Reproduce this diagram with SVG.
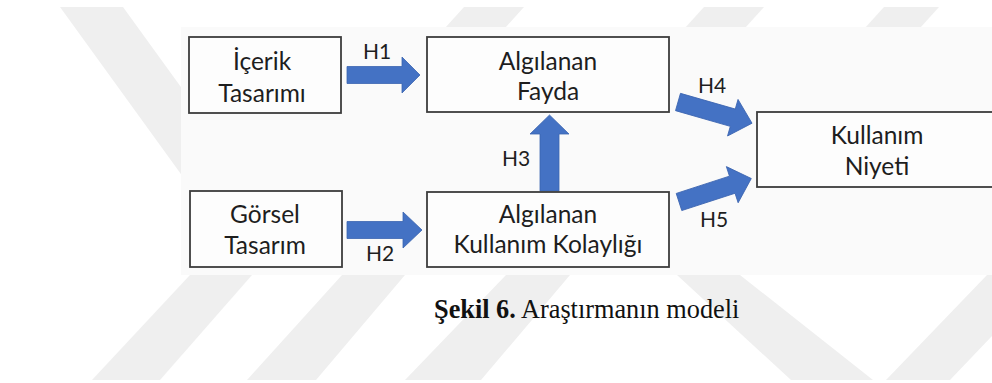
<svg xmlns="http://www.w3.org/2000/svg" width="992" height="383" viewBox="0 0 992 383">
<style>
.wm{fill:#efefef}
.box{fill:#fdfdfd;stroke:#3c3c3c;stroke-width:1.8}
.t{font-family:Lato,"Open Sans","Liberation Sans",sans-serif;font-size:24.5px;fill:#1e1e1e;text-anchor:middle}
.h{font-family:Lato,"Open Sans","Liberation Sans",sans-serif;font-size:21px;fill:#1e1e1e}
.arr{fill:#4472c4;stroke:#3b64b0;stroke-width:0.8}
.cap{font-family:"Liberation Serif","Times New Roman",serif;font-size:26.3px;fill:#111}
</style>
<rect width="992" height="383" fill="#ffffff"/>
<g id="watermark">
<polygon class="wm" points="60,7 123,7 317,275 254,275"/>
<polygon class="wm" points="464,7 524,7 505,28 445,28"/>
<polygon class="wm" points="704,7 764,7 745,28 685,28"/>
<polygon class="wm" points="884,7 939,7 920,28 865,28"/>
<polygon class="wm" points="190,275 252,275 160,380 92,380"/>
<polygon class="wm" points="342,275 405,275 316,380 247,380"/>
<polygon class="wm" points="506,275 570,275 481,380 405,380"/>
<polygon class="wm" points="677,275 740,275 873,380 791,380"/>
<polygon class="wm" points="987,275 1050,275 950,380 886,380"/>
</g>
<rect x="181" y="27" width="811" height="248" fill="#fafafa"/>
<g id="connectors">
<g id="H1">
<path class="arr" d="M347,66.5 H402 V57 L420,75 L402,93 V83.5 H347 Z"/>
<text class="h" x="363" y="59">H1</text>
</g>
<g id="H2">
<path class="arr" d="M347,221.5 H403 V212 L422,230 L403,248 V238.5 H347 Z"/>
<text class="h" x="366" y="261">H2</text>
</g>
<g id="H3">
<path class="arr" d="M540,191 V134 H530 L549.5,115 L569,134 H559 V191 Z"/>
<text class="h" x="502" y="166">H3</text>
</g>
<g id="H4">
<path class="arr" transform="translate(678,102) rotate(16)" d="M0,-9 H57 V-19 L77,0 L57,19 V9 H0 Z"/>
<text class="h" x="698" y="93">H4</text>
</g>
<g id="H5">
<path class="arr" transform="translate(679,202) rotate(-18)" d="M0,-9 H56 V-19 L76,0 L56,19 V9 H0 Z"/>
<text class="h" x="700" y="227">H5</text>
</g>
</g>
<g id="icerik">
<rect class="box" x="189" y="37" width="152" height="76"/>
<text class="t" x="262" y="70">İçerik</text>
<text class="t" x="262" y="102">Tasarımı</text>
</g>
<g id="gorsel">
<rect class="box" x="190" y="191" width="152" height="76"/>
<text class="t" x="265" y="223">Görsel</text>
<text class="t" x="265" y="254">Tasarım</text>
</g>
<g id="fayda">
<rect class="box" x="427" y="37" width="242" height="75"/>
<text class="t" x="548" y="70">Algılanan</text>
<text class="t" x="548" y="100">Fayda</text>
</g>
<g id="kolaylik">
<rect class="box" x="427" y="192" width="242" height="75"/>
<text class="t" x="548" y="223">Algılanan</text>
<text class="t" x="548" y="253">Kullanım Kolaylığı</text>
</g>
<g id="niyet">
<rect class="box" x="757" y="112" width="242" height="75"/>
<text class="t" x="877" y="144">Kullanım</text>
<text class="t" x="877" y="175">Niyeti</text>
</g>
<text class="cap" x="434" y="318"><tspan font-weight="bold">Şekil 6.</tspan> Araştırmanın modeli</text>
</svg>
